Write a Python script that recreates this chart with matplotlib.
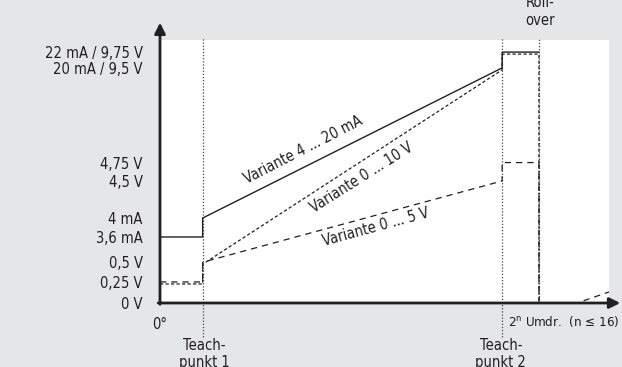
import matplotlib
matplotlib.use("Agg")
import matplotlib.pyplot as plt
import matplotlib.transforms as mtransforms

plt.rcParams['font.family'] = ['Liberation Sans Narrow', 'DejaVu Sans']
plt.rcParams['font.stretch'] = 'condensed'
plt.rcParams['font.size'] = 10.5
plt.rcParams['mathtext.default'] = 'regular'

BG = '#e5e6e8'
INK = '#231f20'

# schematic positions along the rotation axis
T1 = 9.5      # Teach-punkt 1
T2 = 76.2     # Teach-punkt 2
R = 84.4      # roll-over

# output levels (schematic vertical positions) and their labels
level_names = ['0 V', '0,25 V', '0,5 V', '3,6 mA', '4 mA', '4,5 V', '4,75 V',
               '20 mA / 9,5 V', '22 mA / 9,75 V']
level_pos = [0.0, 8.0, 15.5, 25.1, 32.3, 46.4, 53.4, 89.4, 95.4]
L = dict(zip(level_names, level_pos))

# Variante 4 ... 20 mA
ma_x = [0, T1, T1, T2, T2, R]
ma_y = [L['3,6 mA'], L['3,6 mA'], L['4 mA'], L['20 mA / 9,5 V'],
        L['22 mA / 9,75 V'], L['22 mA / 9,75 V']]

# Variante 0 ... 10 V
v10_x = [0, T1, T1, T2, T2, R, R]
v10_y = [L['0,25 V'], L['0,25 V'], L['0,5 V'], L['20 mA / 9,5 V'],
         L['22 mA / 9,75 V'], L['22 mA / 9,75 V'], L['0 V']]

# Variante 0 ... 5 V
v5_x = [0, T1, T1, T2, T2, R, R]
v5_y = [L['0,25 V'], L['0,25 V'], L['0,5 V'], L['4,5 V'],
        L['4,75 V'], L['4,75 V'], L['0 V']]

# restart after roll-over
restart_x = [R, 92.9, 100]
restart_y = [0.0, 0.0, 4.2]

fig = plt.figure(figsize=(6.22, 3.67), dpi=100, facecolor=BG)
ax = fig.add_axes([160 / 622, 1 - 303 / 367, 449 / 622, 263 / 367])
ax.set_facecolor('white')
ax.set_xlim(0, 100)
ax.set_ylim(0, 100)
for s in ax.spines.values():
    s.set_visible(False)

# dotted marker lines
dot = dict(color='#444444', lw=0.9, linestyle=(0, (1, 1.5)), clip_on=False)
ax.plot([T1, T1], [-13, 100.8], **dot)
ax.plot([T2, T2], [-13, 100.8], **dot)
ax.plot([R, R], [0, 100.8], **dot)

# characteristic curves
ax.plot(ma_x, ma_y, color=INK, lw=1.0, solid_joinstyle='miter')
shift = mtransforms.offset_copy(ax.transData, fig=fig, x=0, y=-2, units='dots')
ax.plot(v10_x, v10_y, color=INK, lw=0.9, dashes=(2.6, 1.8), transform=shift)
ax.plot(v5_x, v5_y, color=INK, lw=0.9, dashes=(5.0, 4.0))
ax.plot(restart_x, restart_y, color=INK, lw=0.9, dashes=(5.0, 4.0), clip_on=False)

# axes with arrows
arrow = dict(arrowstyle='-|>', lw=2.0, color=INK, mutation_scale=16,
             shrinkA=0, shrinkB=0)
ax.annotate('', xy=(0, 1.066), xytext=(0, -0.005), xycoords='axes fraction',
            arrowprops=arrow, annotation_clip=False)
ax.annotate('', xy=(1.025, 0), xytext=(-0.004, 0), xycoords='axes fraction',
            arrowprops=arrow, annotation_clip=False)

ax.set_yticks(level_pos, level_names)
ax.set_xticks([0], ['0°'])
ax.tick_params(axis='y', length=0, pad=12.5, labelcolor=INK)
ax.tick_params(axis='x', length=0, pad=10, labelcolor=INK)

# curve labels
ax.text(31.8, 58.2, 'Variante 4 ... 20 mA', rotation=27.3, ha='center',
        va='center', color=INK, rotation_mode='anchor')
ax.text(44.8, 47.6, 'Variante 0 ... 10 V', rotation=32.2, ha='center',
        va='center', color=INK, rotation_mode='anchor')
ax.text(48.0, 29.0, 'Variante 0 ... 5 V', rotation=15.3, ha='center',
        va='center', color=INK, rotation_mode='anchor')

# axis annotations
ax.text(T1 + 0.3, -19.4, 'Teach-\npunkt 1', ha='center', va='center',
        linespacing=1.2, color=INK, clip_on=False)
ax.text(T2 - 0.3, -19.4, 'Teach-\npunkt 2', ha='center', va='center',
        linespacing=1.2, color=INK, clip_on=False)
ax.text(R + 0.2, 110.8, 'Roll-\nover', ha='center', va='center',
        linespacing=1.2, color=INK, clip_on=False)
ax.text(102.2, -7.2, '2$^{n}$ Umdr.  (n ≤ 16)', ha='right', va='center',
        fontsize=9.5, color=INK, clip_on=False)

fig.savefig('out.png', dpi=100, facecolor=BG)
